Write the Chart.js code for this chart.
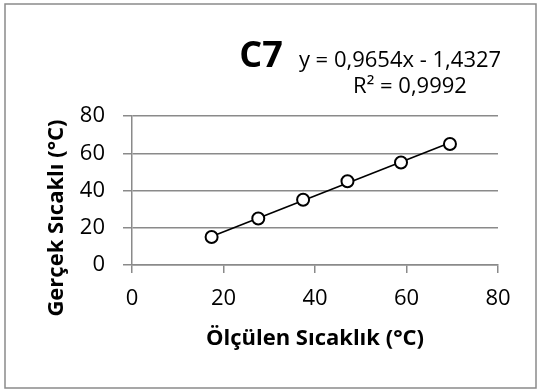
<!DOCTYPE html>
<html>
<head>
<meta charset="utf-8">
<script src="https://cdn.jsdelivr.net/npm/chart.js@4"></script>
<style>
  html, body { margin: 0; padding: 0; background: #fff; }
  #c7Chart { display: block; }
</style>
</head>
<body>
<canvas id="c7Chart" width="540" height="392"></canvas>
<script>
// measured vs. real temperatures for sensor C7
const measured = [17.4, 27.6, 37.4, 47.1, 58.8, 69.5];
const actual = [15, 25, 35, 45, 55, 65];
const xTicks = [0, 20, 40, 60, 80];
const yTicks = [0, 20, 40, 60, 80];

// linear fit shown on the chart
const slope = 0.9654;
const intercept = -1.4327;
const rSquared = '0,9992';

const chartTitle = 'C7';
const xTitle = 'Ölçülen Sıcaklık (°C)';
const yTitle = 'Gerçek Sıcaklı (°C)';

const FONT = '"Open Sans", "Noto Sans", sans-serif';
const GRID = '#8a8a8a';

const points = measured.map((x, i) => ({ x: x, y: actual[i] }));
const xMin = Math.min(...measured);
const xMax = Math.max(...measured);
const trend = [
    { x: xMin, y: slope * xMin + intercept },
    { x: xMax, y: slope * xMax + intercept },
];

const fmt = (v) => Math.abs(v).toFixed(4).replace('.', ',');
const eqText = `y = ${fmt(slope)}x ${intercept < 0 ? '-' : '+'} ${fmt(intercept)}`;

// frame, title, fit label and axis titles
const decorations = {
    id: 'decorations',
    beforeDraw(chart) {
        const ctx = chart.ctx;
        ctx.save();
        ctx.fillStyle = '#fff';
        ctx.fillRect(0, 0, chart.width, chart.height);
        ctx.strokeStyle = GRID;
        ctx.lineWidth = 1.5;
        ctx.strokeRect(5, 4, 531, 384);
        ctx.restore();
    },
    afterDraw(chart) {
        const ctx = chart.ctx;
        const area = chart.chartArea;
        ctx.save();
        ctx.fillStyle = '#000';
        ctx.textAlign = 'center';
        ctx.textBaseline = 'middle';

        ctx.font = `bold 36px ${FONT}`;
        ctx.fillText(chartTitle, 261, 57);

        ctx.font = `22px ${FONT}`;
        ctx.textBaseline = 'alphabetic';
        ctx.fillText(eqText, 400, 67);
        ctx.fillText(`R² = ${rSquared}`, 410, 93);

        ctx.font = `bold 22px ${FONT}`;
        ctx.textBaseline = 'middle';
        ctx.fillText(xTitle, (area.left + area.right) / 2, 339);

        ctx.translate(57, 218);
        ctx.rotate(-Math.PI / 2);
        ctx.fillText(yTitle, 0, 0);
        ctx.restore();
    },
};

new Chart(document.getElementById('c7Chart').getContext('2d'), {
    type: 'scatter',
    data: {
        datasets: [
            {
                label: 'C7',
                data: points,
                showLine: false,
                pointStyle: 'circle',
                pointRadius: 6,
                pointHoverRadius: 6,
                pointBorderWidth: 2,
                pointBorderColor: '#000',
                pointBackgroundColor: '#fff',
            },
            {
                label: 'Doğrusal',
                data: trend,
                showLine: true,
                pointRadius: 0,
                borderColor: '#000',
                borderWidth: 1.6,
            },
        ],
    },
    options: {
        responsive: false,
        animation: false,
        layout: { padding: { top: 116, right: 42, left: 0, bottom: 0 } },
        plugins: {
            legend: { display: false },
            tooltip: { enabled: false },
        },
        scales: {
            x: {
                type: 'linear',
                min: 0,
                max: 80,
                afterBuildTicks: (axis) => { axis.ticks = xTicks.map((v) => ({ value: v })); },
                afterFit: (axis) => { axis.height = 127; },
                border: { color: GRID, width: 1.5 },
                grid: { drawOnChartArea: false, color: GRID, lineWidth: 1.5, tickLength: 8 },
                ticks: { color: '#000', padding: 13, font: { family: FONT, size: 22 } },
            },
            y: {
                type: 'linear',
                min: 0,
                max: 80,
                afterBuildTicks: (axis) => { axis.ticks = yTicks.map((v) => ({ value: v })); },
                afterFit: (axis) => { axis.width = 132; },
                border: { color: GRID, width: 1.5 },
                grid: { color: GRID, lineWidth: 1.5, tickLength: 9 },
                ticks: { color: '#000', padding: 18, font: { family: FONT, size: 22 } },
            },
        },
    },
    plugins: [decorations],
});
</script>
</body>
</html>
